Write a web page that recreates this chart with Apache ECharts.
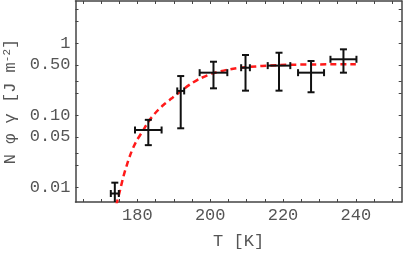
<!DOCTYPE html>
<html>
<head>
<meta charset="utf-8">
<script src="https://cdn.jsdelivr.net/npm/echarts@6/dist/echarts.min.js"></script>
<style>html,body{margin:0;padding:0;background:#fff}#c{width:407px;height:254px}</style>
</head>
<body>
<div id="c"></div>
<script>
// Measured points (temperature in K, value in J m^-2)
const temps   = [173.8, 183.0, 191.9, 200.9, 209.7, 218.9, 227.7, 236.6];
const tempErr = [1.1, 3.65, 0.95, 3.8, 1.2, 3.1, 3.57, 3.57];
const values  = [0.0082, 0.0625, 0.218, 0.391, 0.458, 0.49, 0.391, 0.6];
const errUp   = [0.0034, 0.024, 0.133, 0.164, 0.23, 0.25, 0.177, 0.225];
const errDown = [0.0034, 0.024, 0.152, 0.154, 0.238, 0.27, 0.182, 0.209];

// Fit curve
const fitT = [174.2, 174.5, 175.25, 176.15, 177.1, 178.2, 179.64, 181.37, 183.02, 184.86, 187.14, 189.45, 191.73, 194.5, 197.2, 200.9, 205.5, 209.6, 218.9, 227.4, 240];
const fitV = [0.00562, 0.00652, 0.00917, 0.01403, 0.0204, 0.0296, 0.0430, 0.0592, 0.0815, 0.1067, 0.139, 0.172, 0.213, 0.269, 0.324, 0.385, 0.437, 0.465, 0.499, 0.508, 0.513];

// Axis ticks
const xLabelVals = [180, 200, 220, 240];
const xTickVals = [165, 170, 175, 180, 185, 190, 195, 200, 205, 210, 215, 220, 225, 230, 235, 240, 245, 250];
const yLabelVals = [0.01, 0.05, 0.1, 0.5, 1];
const yLabelText = ['0.01', '0.05', '0.10', '0.50', '1'];
const yTickVals = [0.01, 0.02, 0.03, 0.05, 0.1, 0.2, 0.3, 0.5, 1, 2, 3];

const X_MIN = 163, X_MAX = 252.6;
const Y_MIN = 0.00625, Y_MAX = 3.87;

const L = Math.log10;
const FONT = 'Liberation Mono';
const AX = '#444', TXT = '#555';

const chart = echarts.init(document.getElementById('c'), null, {renderer: 'canvas'});

function yFmt(v) {
  for (let i = 0; i < yLabelVals.length; i++) {
    if (Math.abs(L(yLabelVals[i]) - v) < 1e-6) return yLabelText[i];
  }
  return '';
}

const baseY = {
  type: 'value', min: L(Y_MIN), max: L(Y_MAX),
  splitLine: {show: false},
  axisLine: {show: true, onZero: false, lineStyle: {color: AX, width: 1.5}},
  axisTick: {show: true, inside: true, length: 3, customValues: yTickVals.map(L), lineStyle: {color: AX, width: 1}}
};
const baseX = {
  type: 'value', min: X_MIN, max: X_MAX,
  splitLine: {show: false},
  axisLine: {show: true, onZero: false, lineStyle: {color: AX, width: 1.5}},
  axisTick: {show: true, inside: true, length: 3, customValues: xTickVals, lineStyle: {color: AX, width: 1}}
};

const errData = temps.map((t, i) => [t, values[i], tempErr[i], errUp[i], errDown[i]]);

chart.setOption({
  animation: false,
  backgroundColor: '#fff',
  grid: {left: 75.5, top: 1, width: 326.2, height: 201, containLabel: false, outerBoundsMode: 'none'},
  xAxis: [
    Object.assign({}, baseX, {
      position: 'bottom',
      axisLabel: {show: true, customValues: xLabelVals, fontFamily: FONT, fontSize: 17, color: TXT, margin: 5},
      name: 'T [K]', nameLocation: 'middle', nameGap: 31,
      nameTextStyle: {fontFamily: FONT, fontSize: 17, color: TXT}
    }),
    Object.assign({}, baseX, {position: 'top', axisLabel: {show: false}})
  ],
  yAxis: [
    Object.assign({}, baseY, {
      position: 'left',
      axisLabel: {show: true, customValues: yLabelVals.map(L), formatter: yFmt, fontFamily: FONT, fontSize: 17, color: TXT, margin: 5},
      name: '{m|N φ γ [J m}{s|-2}{m|]}', nameLocation: 'middle', nameGap: 55,
      nameTextStyle: {fontFamily: FONT, fontSize: 17, color: TXT,
        rich: {m: {fontFamily: FONT, fontSize: 17, color: TXT}, s: {fontFamily: FONT, fontSize: 11, color: TXT, verticalAlign: 'top'}}}
    }),
    Object.assign({}, baseY, {position: 'right', axisLabel: {show: false}})
  ],
  series: [
    {
      type: 'line', xAxisIndex: 0, yAxisIndex: 0, z: 2,
      data: fitT.map((t, i) => [t, L(fitV[i])]),
      smooth: 0.3, showSymbol: false, symbol: 'none', clip: true,
      lineStyle: {color: '#ff1a1a', width: 2.5, type: [6, 4]}
    },
    {
      type: 'custom', xAxisIndex: 0, yAxisIndex: 0, z: 3, clip: true,
      data: errData,
      renderItem: function (params, api) {
        const t = api.value(0), v = api.value(1), dt = api.value(2), up = api.value(3), dn = api.value(4);
        const top = api.coord([t, L(v + up)]);
        const bot = api.coord([t, L(v - dn)]);
        const lft = api.coord([t - dt, L(v)]);
        const rgt = api.coord([t + dt, L(v)]);
        const cap = 3.5;
        const st = {stroke: '#111', lineWidth: 2};
        const ln = (x1, y1, x2, y2) => ({type: 'line', shape: {x1, y1, x2, y2}, style: st});
        return {
          type: 'group',
          children: [
            ln(top[0], top[1], bot[0], bot[1]),
            ln(top[0] - cap, top[1], top[0] + cap, top[1]),
            ln(bot[0] - cap, bot[1], bot[0] + cap, bot[1]),
            ln(lft[0], lft[1], rgt[0], rgt[1]),
            ln(lft[0], lft[1] - cap, lft[0], lft[1] + cap),
            ln(rgt[0], rgt[1] - cap, rgt[0], rgt[1] + cap)
          ]
        };
      }
    }
  ]
});
</script>
</body>
</html>
